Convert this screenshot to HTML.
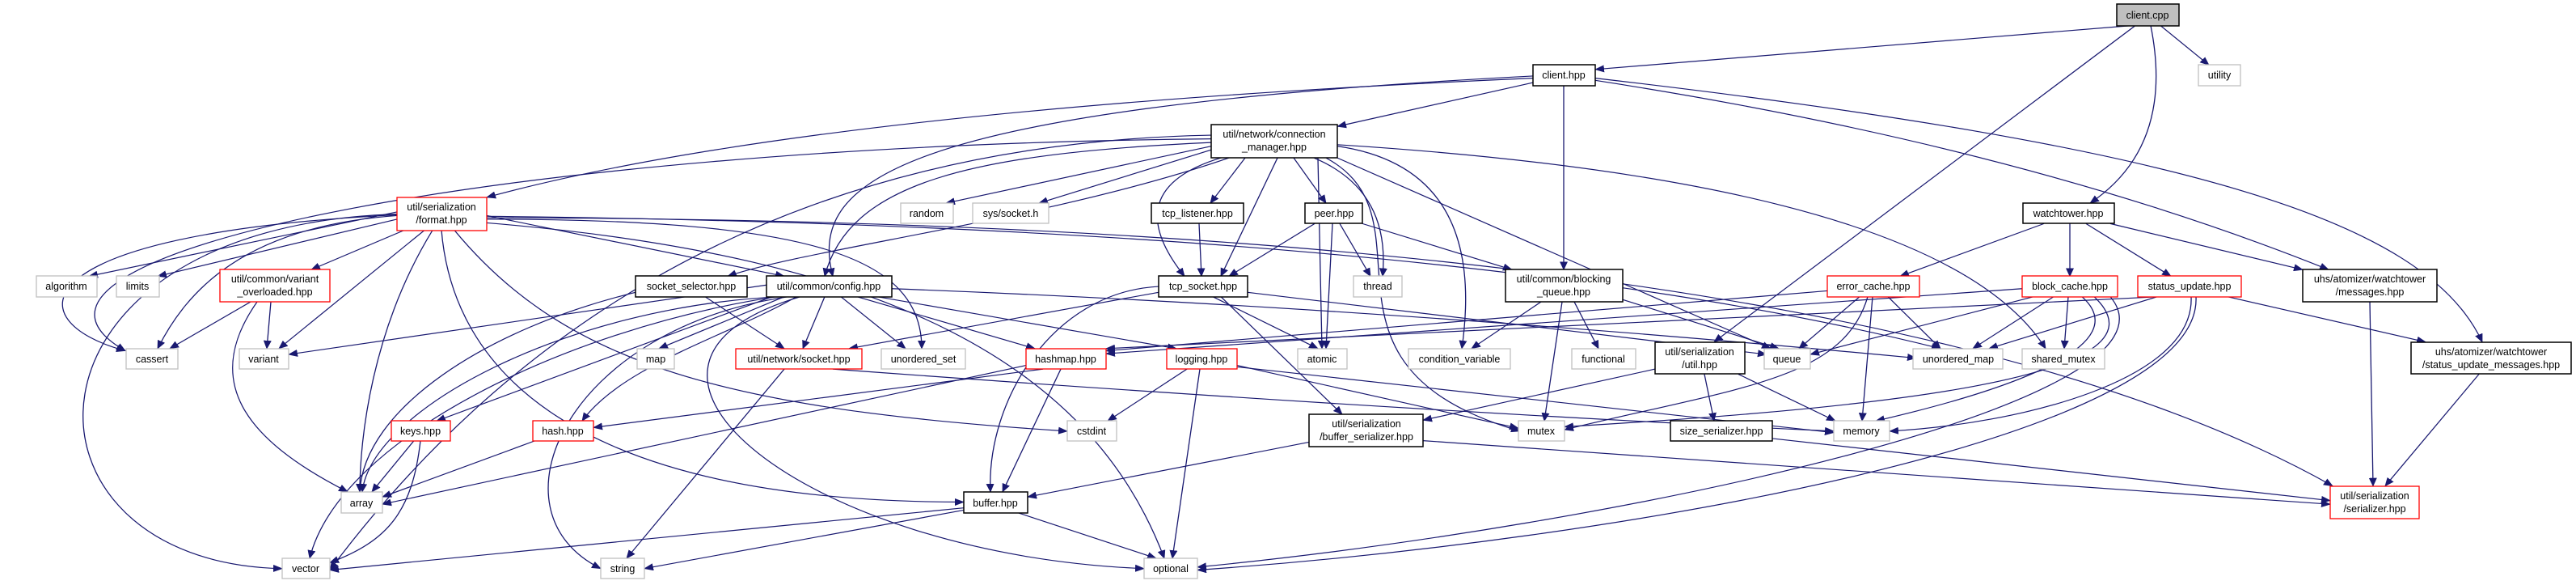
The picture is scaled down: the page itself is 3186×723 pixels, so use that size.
<!DOCTYPE html>
<html><head><meta charset="utf-8"><style>
html,body{margin:0;padding:0;background:#fff}
svg{display:block}
text{font-family:"Liberation Sans",sans-serif;font-size:12.5px;fill:#000;text-anchor:middle}
.e{fill:none;stroke:#191970;stroke-width:1.3}
.b{fill:#fff;stroke:#000;stroke-width:1.5}
.g{fill:#fff;stroke:#c0c0c0;stroke-width:1.3}
.r{fill:#fff;stroke:#ff0000;stroke-width:1.3}
</style></head><body>
<svg width="3186" height="723" viewBox="0 0 3186 723" xmlns="http://www.w3.org/2000/svg">
<defs><marker id="a" markerUnits="userSpaceOnUse" markerWidth="12" markerHeight="10" refX="11" refY="5" orient="auto"><polygon points="0,0 12,5 0,10" fill="#191970"/></marker></defs>
<g class="e" marker-end="url(#a)" transform="matrix(1,0,0,0.9032,0,0)">
<path d="M2636,35 L1973,95"/>
<path d="M2641,35 L2120,468"/>
<path d="M2660,35 Q2690,200 2585,278"/>
<path d="M2672,35 L2732,89"/>
<path d="M1896,107 Q1000,150 602,270"/>
<path d="M1896,104 C1100,150 1000,250 1030,378"/>
<path d="M1896,113 L1654,173"/>
<path d="M1934,117 L1934,369"/>
<path d="M1973,110 Q2500,200 2880,369"/>
<path d="M1973,107 C2700,200 3000,300 3070,468"/>
<path d="M1498,190 C600,200 -50,350 155,480"/>
<path d="M1498,195 C1200,210 1050,250 1020,378"/>
<path d="M1498,200 L1170,278"/>
<path d="M1498,205 L1285,278"/>
<path d="M1540,216 L1497,278"/>
<path d="M1510,216 Q1380,260 1465,378"/>
<path d="M1520,216 C1300,300 1000,340 900,378"/>
<path d="M1580,216 L1510,378"/>
<path d="M1600,216 L1640,278"/>
<path d="M1625,216 Q1720,260 1710,378"/>
<path d="M1630,216 L1635,477"/>
<path d="M1640,216 C1780,300 1600,500 1880,590"/>
<path d="M1654,200 Q1840,230 1808,477"/>
<path d="M1654,216 L2190,477"/>
<path d="M1654,198 Q2400,250 2530,477"/>
<path d="M1498,185 Q800,200 408,780"/>
<path d="M602,295 L970,378"/>
<path d="M602,300 C1000,300 1140,350 1140,477"/>
<path d="M602,305 C1100,350 1350,500 1440,764"/>
<path d="M602,296 Q1800,310 2400,477"/>
<path d="M602,298 Q2300,300 2885,665"/>
<path d="M491,290 L110,378"/>
<path d="M491,300 L195,378"/>
<path d="M500,315 L385,369"/>
<path d="M491,295 C300,310 230,400 195,477"/>
<path d="M491,293 C0,310 0,770 349,778"/>
<path d="M491,294 C20,320 20,440 155,480"/>
<path d="M525,315 L345,477"/>
<path d="M535,315 C460,450 445,600 445,673"/>
<path d="M546,315 C560,500 700,687 1192,687"/>
<path d="M562,315 C700,500 900,560 1320,590"/>
<path d="M310,413 L210,477"/>
<path d="M335,413 L330,477"/>
<path d="M318,413 C250,520 300,600 430,673"/>
<path d="M872,406 L970,477"/>
<path d="M786,400 C600,450 450,560 445,673"/>
<path d="M948,390 L357,485"/>
<path d="M970,406 L815,477"/>
<path d="M1020,406 L993,477"/>
<path d="M1040,406 L1120,477"/>
<path d="M1060,406 L1280,477"/>
<path d="M1085,406 L1455,477"/>
<path d="M1103,395 Q1700,420 2370,490"/>
<path d="M960,406 C700,450 420,600 383,764"/>
<path d="M965,406 C700,420 460,560 448,673"/>
<path d="M975,406 C700,450 600,700 743,778"/>
<path d="M955,406 L540,576"/>
<path d="M985,406 C900,460 770,500 720,576"/>
<path d="M990,406 C700,500 1000,760 1415,778"/>
<path d="M970,505 L775,764"/>
<path d="M1030,505 Q1700,560 2268,590"/>
<path d="M1290,505 L734,585"/>
<path d="M1312,505 L1240,673"/>
<path d="M1269,500 L473,690"/>
<path d="M512,603 L460,673"/>
<path d="M520,603 C510,700 480,740 408,770"/>
<path d="M662,603 L473,680"/>
<path d="M1468,505 L1370,576"/>
<path d="M1484,505 L1450,764"/>
<path d="M1530,500 L1878,586"/>
<path d="M1530,502 L2268,592"/>
<path d="M1192,695 L408,780"/>
<path d="M1192,698 L797,778"/>
<path d="M1260,702 L1430,764"/>
<path d="M1483,306 L1486,378"/>
<path d="M1433,392 C1300,400 1220,550 1225,673"/>
<path d="M1433,400 L1050,477"/>
<path d="M1500,406 L1630,477"/>
<path d="M1510,406 L1660,567"/>
<path d="M1543,400 L2185,485"/>
<path d="M1626,306 L1520,378"/>
<path d="M1648,306 L1640,477"/>
<path d="M1657,306 L1695,378"/>
<path d="M1685,306 L1870,369"/>
<path d="M1906,413 L1820,477"/>
<path d="M1932,413 L1910,576"/>
<path d="M1947,413 L1977,477"/>
<path d="M2007,410 L2200,477"/>
<path d="M2047,505 L1760,575"/>
<path d="M2108,512 L2120,576"/>
<path d="M2150,512 L2270,576"/>
<path d="M1619,605 L1271,680"/>
<path d="M1760,603 L2882,690"/>
<path d="M2192,600 L2882,685"/>
<path d="M2528,306 L2350,378"/>
<path d="M2560,306 L2560,378"/>
<path d="M2580,306 L2685,378"/>
<path d="M2610,306 L2848,369"/>
<path d="M2260,398 L1368,480"/>
<path d="M2300,406 L2225,477"/>
<path d="M2335,406 L2400,477"/>
<path d="M2316,406 L2303,576"/>
<path d="M2310,406 C2280,520 2150,530 1935,588"/>
<path d="M2501,395 L1368,484"/>
<path d="M2515,406 L2239,485"/>
<path d="M2540,406 L2440,477"/>
<path d="M2558,406 L2553,477"/>
<path d="M2575,406 C2640,470 2500,530 2320,576"/>
<path d="M2590,406 C2700,520 2300,560 1935,584"/>
<path d="M2610,406 C2720,550 2000,720 1481,776"/>
<path d="M2670,406 L1368,477"/>
<path d="M2668,406 L2460,477"/>
<path d="M2710,406 C2715,520 2500,580 2337,590"/>
<path d="M2716,406 C2725,600 2000,740 1481,780"/>
<path d="M2755,406 L3000,468"/>
<path d="M2931,413 L2935,665"/>
<path d="M3066,512 L2950,665"/>
</g>
<!-- nodes -->
<rect x="2618" y="5" width="77" height="27" fill="#bfbfbf" stroke="#000" stroke-width="1.5"/><text x="2656" y="23">client.cpp</text>
<rect class="g" x="2719" y="80" width="52" height="26"/><text x="2745" y="97">utility</text>
<rect class="b" x="1896" y="80" width="77" height="26"/><text x="1934" y="97">client.hpp</text>
<rect class="b" x="1498" y="154" width="156" height="41"/><text x="1576" y="170">util/network/connection</text><text x="1576" y="186">_manager.hpp</text>
<rect class="r" x="491" y="244" width="111" height="41"/><text x="546" y="260">util/serialization</text><text x="546" y="276">/format.hpp</text>
<rect class="g" x="1114" y="251" width="65" height="25"/><text x="1146" y="268">random</text>
<rect class="g" x="1203" y="251" width="94" height="25"/><text x="1250" y="268">sys/socket.h</text>
<rect class="b" x="1424" y="251" width="114" height="25"/><text x="1481" y="268">tcp_listener.hpp</text>
<rect class="b" x="1614" y="251" width="71" height="25"/><text x="1650" y="268">peer.hpp</text>
<rect class="b" x="2502" y="251" width="113" height="25"/><text x="2558" y="268">watchtower.hpp</text>
<rect class="g" x="45" y="341" width="75" height="26"/><text x="82" y="358">algorithm</text>
<rect class="g" x="144" y="341" width="53" height="26"/><text x="170" y="358">limits</text>
<rect class="r" x="272" y="333" width="136" height="40"/><text x="340" y="349">util/common/variant</text><text x="340" y="365">_overloaded.hpp</text>
<rect class="b" x="786" y="341" width="138" height="26"/><text x="855" y="358">socket_selector.hpp</text>
<rect class="b" x="948" y="341" width="155" height="26"/><text x="1025" y="358">util/common/config.hpp</text>
<rect class="b" x="1433" y="341" width="110" height="26"/><text x="1488" y="358">tcp_socket.hpp</text>
<rect class="g" x="1674" y="341" width="60" height="26"/><text x="1704" y="358">thread</text>
<rect class="b" x="1862" y="333" width="145" height="40"/><text x="1934" y="349">util/common/blocking</text><text x="1934" y="365">_queue.hpp</text>
<rect class="r" x="2260" y="341" width="114" height="26"/><text x="2317" y="358">error_cache.hpp</text>
<rect class="r" x="2501" y="341" width="118" height="26"/><text x="2560" y="358">block_cache.hpp</text>
<rect class="r" x="2644" y="341" width="128" height="26"/><text x="2708" y="358">status_update.hpp</text>
<rect class="b" x="2848" y="333" width="166" height="40"/><text x="2931" y="349">uhs/atomizer/watchtower</text><text x="2931" y="365">/messages.hpp</text>
<rect class="g" x="156" y="431" width="64" height="25"/><text x="188" y="448">cassert</text>
<rect class="g" x="296" y="431" width="61" height="25"/><text x="326" y="448">variant</text>
<rect class="g" x="788" y="431" width="46" height="25"/><text x="811" y="448">map</text>
<rect class="r" x="910" y="431" width="156" height="25"/><text x="988" y="448">util/network/socket.hpp</text>
<rect class="g" x="1090" y="431" width="104" height="25"/><text x="1142" y="448">unordered_set</text>
<rect class="r" x="1269" y="431" width="99" height="25"/><text x="1318" y="448">hashmap.hpp</text>
<rect class="r" x="1443" y="431" width="87" height="25"/><text x="1486" y="448">logging.hpp</text>
<rect class="g" x="1605" y="431" width="61" height="25"/><text x="1635" y="448">atomic</text>
<rect class="g" x="1742" y="431" width="126" height="25"/><text x="1805" y="448">condition_variable</text>
<rect class="g" x="1944" y="431" width="79" height="25"/><text x="1983" y="448">functional</text>
<rect class="b" x="2047" y="423" width="111" height="39"/><text x="2102" y="439">util/serialization</text><text x="2102" y="455">/util.hpp</text>
<rect class="g" x="2182" y="431" width="57" height="25"/><text x="2210" y="448">queue</text>
<rect class="g" x="2366" y="431" width="111" height="25"/><text x="2422" y="448">unordered_map</text>
<rect class="g" x="2501" y="431" width="102" height="25"/><text x="2552" y="448">shared_mutex</text>
<rect class="b" x="2982" y="423" width="198" height="39"/><text x="3081" y="439">uhs/atomizer/watchtower</text><text x="3081" y="455">/status_update_messages.hpp</text>
<rect class="r" x="484" y="520" width="73" height="25"/><text x="520" y="537">keys.hpp</text>
<rect class="r" x="659" y="520" width="75" height="25"/><text x="696" y="537">hash.hpp</text>
<rect class="g" x="1320" y="520" width="61" height="25"/><text x="1350" y="537">cstdint</text>
<rect class="b" x="1619" y="512" width="141" height="40"/><text x="1690" y="528">util/serialization</text><text x="1690" y="544">/buffer_serializer.hpp</text>
<rect class="g" x="1878" y="520" width="57" height="25"/><text x="1906" y="537">mutex</text>
<rect class="b" x="2066" y="520" width="126" height="25"/><text x="2129" y="537">size_serializer.hpp</text>
<rect class="g" x="2268" y="520" width="69" height="25"/><text x="2302" y="537">memory</text>
<rect class="g" x="422" y="608" width="51" height="26"/><text x="447" y="626">array</text>
<rect class="b" x="1192" y="608" width="79" height="26"/><text x="1231" y="626">buffer.hpp</text>
<rect class="r" x="2882" y="601" width="110" height="40"/><text x="2937" y="617">util/serialization</text><text x="2937" y="633">/serializer.hpp</text>
<rect class="g" x="349" y="690" width="59" height="25"/><text x="378" y="707">vector</text>
<rect class="g" x="743" y="690" width="54" height="25"/><text x="770" y="707">string</text>
<rect class="g" x="1415" y="690" width="66" height="25"/><text x="1448" y="707">optional</text>
</svg>
</body></html>
